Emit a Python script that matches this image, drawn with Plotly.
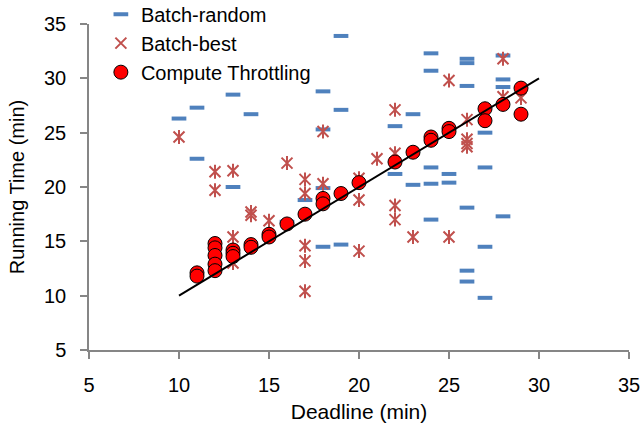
import plotly.graph_objects as go

# ---- data ----
random_x = [10, 11, 11, 13, 13, 14, 16, 17, 18, 18, 18, 18, 19, 19, 19,
            22, 22, 23, 23, 24, 24, 24, 24, 24, 25, 25,
            26, 26, 26, 26, 26, 26, 27, 27, 27, 27, 28, 28, 28, 28]
random_y = [26.3, 27.3, 22.6, 28.5, 20.0, 26.7, 16.8, 18.8, 28.8, 25.3, 19.9, 14.5, 33.9, 27.1, 14.7,
            25.6, 21.2, 26.7, 20.2, 32.3, 30.7, 21.8, 20.3, 17.0, 21.2, 20.4,
            31.8, 31.4, 29.3, 18.1, 12.3, 11.3, 25.0, 21.8, 14.5, 9.8, 32.1, 29.9, 29.2, 17.3]

best_x = [10, 12, 12, 13, 13, 13, 14, 14, 15, 16, 17, 17, 17, 17, 17, 18, 18,
          20, 20, 20, 21, 22, 22, 22, 22, 23, 25, 25, 26, 26, 26, 26, 28, 28, 29]
best_y = [24.6, 21.4, 19.7, 21.5, 15.4, 13.0, 17.7, 17.4, 16.9, 22.2, 20.7, 19.4, 14.6, 13.2, 10.4, 25.1, 20.3,
          20.8, 18.8, 14.1, 22.6, 27.1, 23.1, 18.3, 17.0, 15.4, 29.8, 15.4, 26.2, 24.4, 24.0, 23.7, 31.8, 28.3, 28.2]

ct_x = [11, 11, 12, 12, 12, 12, 12, 13, 13, 13, 14, 14, 15, 15, 16, 17, 18, 18, 19, 20,
        22, 23, 24, 24, 25, 25, 27, 27, 28, 29, 29]
ct_y = [12.1, 11.8, 14.8, 14.4, 13.7, 12.9, 12.3, 14.2, 13.9, 13.6, 14.7, 14.45, 15.65, 15.4, 16.6, 17.5,
        18.95, 18.45, 19.4, 20.4, 22.3, 23.2, 24.6, 24.3, 25.4, 25.1, 27.2, 26.1, 27.6, 29.1, 26.7]

ideal_x = [10, 30]
ideal_y = [10, 30]

x_ticks = [5, 10, 15, 20, 25, 30, 35]
y_ticks = [5, 10, 15, 20, 25, 30, 35]

BLUE = "#4F81BD"
RED_STAR = "#C0504D"
FONT = "Arial, Liberation Sans, sans-serif"
AXIS_GRAY = "#868686"

fig = go.Figure()

fig.add_trace(go.Scatter(
    x=random_x, y=random_y, mode="markers", name="Batch-random",
    marker=dict(symbol="line-ew", size=10.5, color=BLUE,
                line=dict(color=BLUE, width=4)),
))
fig.add_trace(go.Scatter(
    x=best_x, y=best_y, mode="markers", name="Batch-best",
    marker=dict(symbol="x-thin-open", size=11, color=RED_STAR,
                line=dict(color=RED_STAR, width=2)),
))
fig.add_trace(go.Scatter(
    x=best_x, y=best_y, mode="markers", name="Batch-best", showlegend=False,
    marker=dict(symbol="line-ns-open", size=10, color=RED_STAR,
                line=dict(color=RED_STAR, width=2)),
))
fig.add_trace(go.Scatter(
    x=ct_x, y=ct_y, mode="markers", name="Compute Throttling",
    marker=dict(symbol="circle", size=14, color="#FF0000",
                line=dict(color="black", width=1)),
))
fig.add_trace(go.Scatter(
    x=ideal_x, y=ideal_y, mode="lines", showlegend=False,
    line=dict(color="black", width=2), hoverinfo="skip",
))

axis_common = dict(
    showline=True, linecolor=AXIS_GRAY, linewidth=1.5,
    ticks="outside", ticklen=7, tickcolor=AXIS_GRAY, tickwidth=1.5,
    showgrid=False, zeroline=False, automargin=False,
    ticklabeloverflow="allow",
    tickfont=dict(family=FONT, size=20, color="black"),
)

fig.update_layout(
    width=640, height=426,
    margin=dict(l=89, r=11, t=24, b=76, autoexpand=False),
    paper_bgcolor="white", plot_bgcolor="white",
    font=dict(family=FONT, size=20, color="black"),
    xaxis=dict(range=[5, 35], tickvals=x_ticks, ticklabelstandoff=9,
               title=dict(text="Deadline (min)", standoff=10,
                          font=dict(family=FONT, size=21, color="black")),
               **axis_common),
    yaxis=dict(range=[5, 35], tickvals=y_ticks, ticklabelstandoff=10,
               title=dict(text="Running Time (min)", standoff=14,
                          font=dict(family=FONT, size=20, color="black")),
               **axis_common),
    legend=dict(x=0.022, y=1.09, xanchor="left", yanchor="top",
                bgcolor="rgba(0,0,0,0)", font=dict(family=FONT, size=20),
                tracegroupgap=0, itemsizing="trace"),
    showlegend=True,
)

fig.write_html("out.html", config={"displayModeBar": False},
               post_script="document.body.style.margin='0';document.body.style.padding='0';")
